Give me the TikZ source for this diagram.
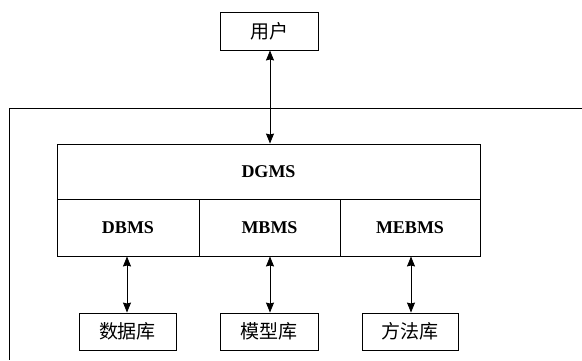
\documentclass[tikz,border=0pt]{standalone}
\usepackage{fontspec}
\setmainfont{Liberation Serif}
\newfontfamily\cjk{Noto Sans CJK SC}
\usetikzlibrary{arrows.meta}
\begin{document}
\begin{tikzpicture}[x=1pt,y=-1pt,
  line width=0.9pt,
  box/.style={draw,rectangle,inner sep=0pt},
  cbox/.style={box,minimum width=97pt,minimum height=37pt,font=\cjk\fontsize{19}{19}\selectfont},
  lab/.style={font=\bfseries\fontsize{18}{18}\selectfont},
  dbl/.style={line width=0.8pt,{Stealth[length=10pt,width=8pt,inset=1pt]}-{Stealth[length=10pt,width=8pt,inset=1pt]}}]
\useasboundingbox (0,0) rectangle (582,360);
% open frame
\coordinate (ftr) at (582,108);
\coordinate (ftl) at (9,108);
\coordinate (fbl) at (9,360);
\draw (ftr) -- (ftl) -- (fbl);
% user
\node[cbox,minimum width=98pt,minimum height=38pt] (user) at (269,31) {用户};
% DGMS block
\node[box,minimum width=423pt,minimum height=55pt,lab] (dgms) at (268.5,171.5) {DGMS};
\node[box,minimum width=142pt,minimum height=57pt,lab] (dbms) at (128,227.5) {DBMS};
\node[box,minimum width=141pt,minimum height=57pt,lab] (mbms) at (269.5,227.5) {MBMS};
\node[box,minimum width=140pt,minimum height=57pt,lab] (mebms) at (410,227.5) {MEBMS};
% lower boxes
\node[cbox] (db) at (127.5,331.5) {数据库};
\node[cbox,minimum width=98pt] (mb) at (269,331.5) {模型库};
\node[cbox,minimum width=96pt] (meb) at (410,331.5) {方法库};
% arrows
\draw[dbl] (user.south -| 270,0) -- (dgms.north -| 270,0);
\draw[dbl] (dbms.south -| 127,0) -- (db.north -| 127,0);
\draw[dbl] (mbms.south -| 270,0) -- (mb.north -| 270,0);
\draw[dbl] (mebms.south -| 411,0) -- (meb.north -| 411,0);
\end{tikzpicture}
\end{document}
